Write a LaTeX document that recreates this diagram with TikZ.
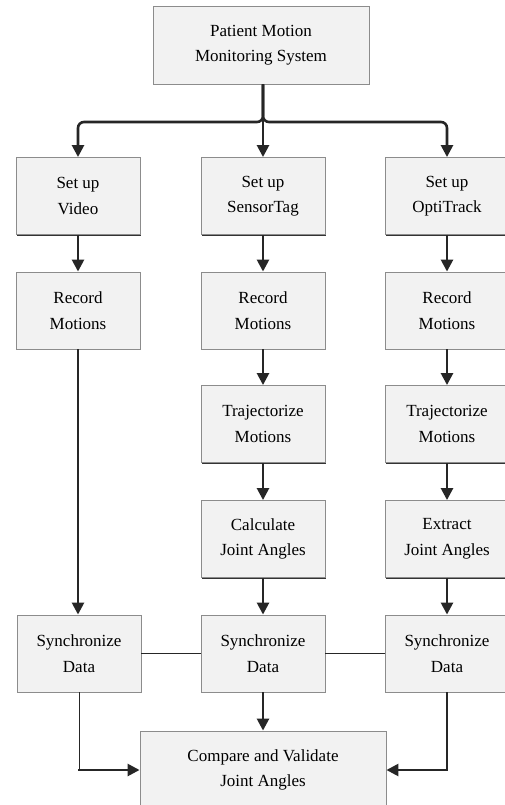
\documentclass[tikz,border=0pt]{standalone}
\usepackage{fontspec}
\setmainfont{LiberationSerif-Regular.ttf}
\usetikzlibrary{arrows.meta,shadows}

\tikzset{
    box/.style={
        draw=black!45,
        fill=black!5,
        line width=0.9pt,
        minimum width=124pt,
        minimum height=77pt,
        align=center,
        font=\fontsize{17}{25.5}\selectfont,
        drop shadow={shadow xshift=0.9pt,shadow yshift=-1.1pt,fill=black!80,opacity=1}
    },
    flow/.style={
        line width=2.6pt,
        black!85,
        -{Triangle[length=12pt,width=12pt]}
    },
    link/.style={
        line width=1pt,
        black!85
    }
}

\begin{document}
\begin{tikzpicture}[x=1pt,y=-1pt]
            \useasboundingbox[fill=white] (0,0) rectangle (505,805);
            \node[box, minimum width=216pt, minimum height=78pt] (pmms) at (261,45) {Patient Motion\\Monitoring System};
            \node[box] (vidset) at (78,196) {Set up\\Video};
            \node[box] (tagset) at (263,196) {Set up\\SensorTag};
            \node[box] (optset) at (447,196) {Set up\\OptiTrack};
            \node[box] (vidrec) at (78,310.5) {Record\\Motions};
            \node[box] (tagrec) at (263,310.5) {Record\\Motions};
            \node[box] (optrec) at (447,310.5) {Record\\Motions};
            \node[box] (tagtraj) at (263,424) {Trajectorize\\Motions};
            \node[box] (opttraj) at (447,424) {Trajectorize\\Motions};
            \node[box] (tagcalc) at (263,539) {Calculate\\Joint Angles};
            \node[box] (optext) at (447,539) {Extract\\Joint Angles};
            \node[box] (vidsync) at (79,653.5) {Synchronize\\Data};
            \node[box] (tagsync) at (263,653.5) {Synchronize\\Data};
            \node[box] (optsync) at (447,653.5) {Synchronize\\Data};
            \node[box, minimum width=246pt, minimum height=78pt] (compare) at (263,770) {Compare and Validate\\Joint Angles};
            \coordinate (split) at (263,122);
            \draw[flow] (pmms.south -| split) -- (tagset.north);
            \draw[flow, rounded corners=6pt] (pmms.south -| split) -- (split) -| (vidset.north);
            \draw[flow, rounded corners=6pt] (pmms.south -| split) -- (split) -| (optset.north);
            \draw[flow] (vidset) -- (vidrec);
            \draw[flow] (tagset) -- (tagrec);
            \draw[flow] (optset) -- (optrec);
            \draw[flow] (vidrec.south) -- (vidsync.north -| vidrec.south);
            \draw[flow] (tagrec) -- (tagtraj);
            \draw[flow] (optrec) -- (opttraj);
            \draw[flow] (tagtraj) -- (tagcalc);
            \draw[flow] (opttraj) -- (optext);
            \draw[flow] (tagcalc) -- (tagsync);
            \draw[flow] (optext) -- (optsync);
            \draw[link] (vidsync) -- (tagsync);
            \draw[link] (tagsync) -- (optsync);
            \draw[flow] (tagsync) -- (compare);
            \coordinate (vidturn) at (vidsync.south |- compare.west);
            \draw[link] (vidsync.south) -- (vidturn);
            \draw[flow] ([xshift=-1pt]vidturn) -- (compare.west);
            \draw[flow] (optsync.south) |- (compare.east);
        \end{tikzpicture}
\end{document}
